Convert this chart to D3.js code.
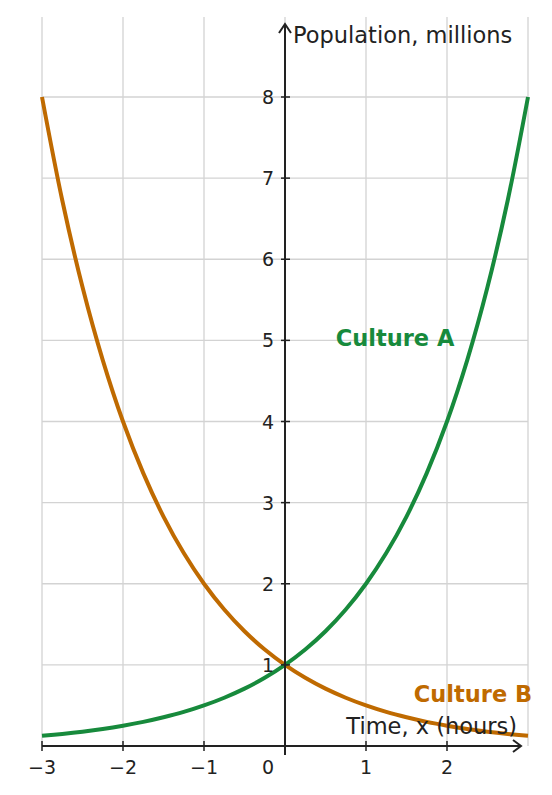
<!DOCTYPE html><html><head><script src="https://cdn.jsdelivr.net/npm/d3@7"></script>
<style>body{margin:0;background:#fff}text{font-family:"DejaVu Sans",sans-serif}</style></head><body>
<svg id="c" width="552" height="795"></svg>
<script>
const xs=[-3,-2.75,-2.5,-2.25,-2,-1.75,-1.5,-1.25,-1,-0.75,-0.5,-0.25,0,0.25,0.5,0.75,1,1.25,1.5,1.75,2,2.25,2.5,2.75,3];
const cultureA=[0.125,0.149,0.177,0.21,0.25,0.297,0.354,0.42,0.5,0.595,0.707,0.841,1,1.189,1.414,1.682,2,2.378,2.828,3.364,4,4.757,5.657,6.727,8];
const cultureB=[8,6.727,5.657,4.757,4,3.364,2.828,2.378,2,1.682,1.414,1.189,1,0.841,0.707,0.595,0.5,0.42,0.354,0.297,0.25,0.21,0.177,0.149,0.125];
const xTicks=[-3,-2,-1,0,1,2];
const yTicks=[1,2,3,4,5,6,7,8];
const svg=d3.select("#c");
const x=d3.scaleLinear().domain([-3,3]).range([42,528]);
const y=d3.scaleLinear().domain([0,8]).range([746,97]);
const g=svg.append("g");
[-3,-2,-1,0,1,2,3].forEach(v=>g.append("line").attr("x1",x(v)).attr("x2",x(v)).attr("y1",17).attr("y2",746).attr("stroke","#d3d3d3").attr("stroke-width",1.3));
yTicks.forEach(v=>g.append("line").attr("x1",42).attr("x2",528).attr("y1",y(v)).attr("y2",y(v)).attr("stroke","#d3d3d3").attr("stroke-width",1.3));
const line=d3.line().x((d,i)=>x(xs[i])).y(d=>y(d)).curve(d3.curveCatmullRom);
svg.append("path").attr("d",line(cultureB)).attr("fill","none").attr("stroke","#bf6a00").attr("stroke-width",4);
svg.append("path").attr("d",line(cultureA)).attr("fill","none").attr("stroke","#178a3c").attr("stroke-width",4);
const ax="#222";
svg.append("line").attr("x1",42).attr("x2",520).attr("y1",746).attr("y2",746).attr("stroke",ax).attr("stroke-width",2);
svg.append("path").attr("d","M513,740 L521,746 L513,752").attr("fill","none").attr("stroke",ax).attr("stroke-width",2);
svg.append("line").attr("x1",x(0)).attr("x2",x(0)).attr("y1",755).attr("y2",25).attr("stroke",ax).attr("stroke-width",2);
svg.append("path").attr("d",`M${x(0)-6},33 L${x(0)},24 L${x(0)+6},33`).attr("fill","none").attr("stroke",ax).attr("stroke-width",2);
xTicks.forEach(v=>{
 svg.append("line").attr("x1",x(v)).attr("x2",x(v)).attr("y1",741).attr("y2",751).attr("stroke",ax).attr("stroke-width",1.5);
 svg.append("text").attr("x",v===0?x(v)-17:x(v)).attr("y",774).attr("text-anchor","middle").attr("font-size",19).attr("fill",ax).text(v<0?"\u2212"+(-v):v);
});
yTicks.forEach(v=>{
 svg.append("line").attr("x1",x(0)-4).attr("x2",x(0)+5).attr("y1",y(v)).attr("y2",y(v)).attr("stroke",ax).attr("stroke-width",1.5);
 svg.append("text").attr("x",x(0)-11).attr("y",y(v)+7).attr("text-anchor","end").attr("font-size",19).attr("fill",ax).text(v);
});
svg.append("text").attr("x",293).attr("y",43).attr("font-size",22.5).attr("fill",ax).text("Population, millions");
svg.append("text").attr("x",517).attr("y",734).attr("text-anchor","end").attr("font-size",22.5).attr("fill",ax).text("Time, x (hours)");
svg.append("text").attr("x",395).attr("y",346).attr("text-anchor","middle").attr("font-size",22.5).attr("font-weight","bold").attr("fill","#178a3c").text("Culture A");
svg.append("text").attr("x",473).attr("y",702).attr("text-anchor","middle").attr("font-size",22.5).attr("font-weight","bold").attr("fill","#bf6a00").text("Culture B");
</script></body></html>
